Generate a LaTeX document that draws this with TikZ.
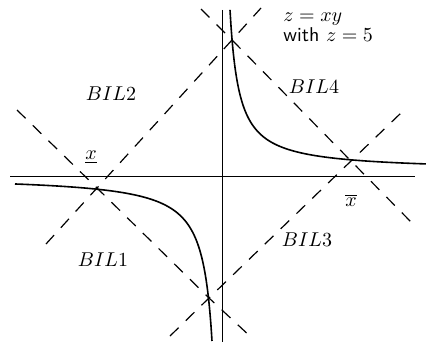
\documentclass[tikz,border=0pt]{standalone}
\usepackage{tikz}
\begin{document}
\begin{tikzpicture}[x=0.5pt,y=-0.5pt,
  axis/.style={line width=0.4pt},
  curve/.style={line width=0.8pt},
  cut/.style={line width=0.6pt,dash pattern=on 6pt off 5pt},
  lbl/.style={inner sep=0pt}]
\useasboundingbox (0,0) rectangle (426,342);
% axes
\coordinate (ax1) at (10,176);
\coordinate (ax2) at (415,176);
\coordinate (ay1) at (222,10);
\coordinate (ay2) at (222,342);
\draw[axis] (ax1) -- (ax2);
\draw[axis] (ay1) -- (ay2);
% hyperbola branches
\draw[curve] plot[domain=8:204,samples=200,smooth] ({222+\x},{176-(1450/(\x+1)+5)});
\draw[curve] plot[domain=-207:-10,samples=200,smooth] ({222+\x},{176-1650/\x});
% corner points
\coordinate (PL) at (97,188);
\coordinate (PU) at (232,40);
\coordinate (PR) at (351,161);
\coordinate (PB) at (209,298);
% line ends
\coordinate (L1a) at (17,110);
\coordinate (L1b) at (252,338);
\coordinate (L2a) at (46,244);
\coordinate (L2b) at (261,8);
\coordinate (L3a) at (201,9);
\coordinate (L3b) at (412,223);
\coordinate (L4a) at (170,336);
\coordinate (L4b) at (402,112);
\draw[cut] (L1a) -- (PL) -- (PB) -- (L1b);
\draw[cut] (L2a) -- (PL) -- (PU) -- (L2b);
\draw[cut] (L3a) -- (PU) -- (PR) -- (L3b);
\draw[cut] (L4a) -- (PB) -- (PR) -- (L4b);
% labels
\node[lbl] (b2) at (111,94) {$BIL2$};
\node[lbl] (b4) at (314,87) {$BIL4$};
\node[lbl] (b1) at (103,260) {$BIL1$};
\node[lbl] (b3) at (307,240) {$BIL3$};
\node[lbl] (xl) at (91,157) {$\underline{x}$};
\node[lbl] (xu) at (351,200) {$\overline{x}$};
\node[lbl,anchor=north west,align=left] (eq) at (283,12) {$z=xy$\\[-2pt]\textsf{with} $z=5$};
\end{tikzpicture}
\end{document}
